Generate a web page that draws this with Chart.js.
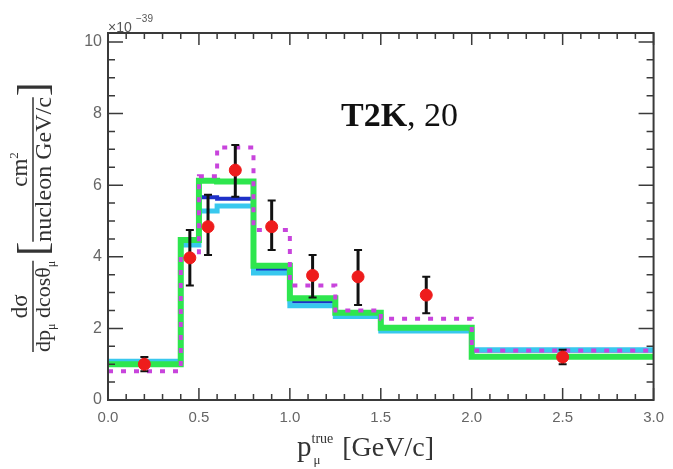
<!DOCTYPE html>
<html>
<head>
<meta charset="utf-8">
<script src="https://cdn.jsdelivr.net/npm/chart.js@4.4.1/dist/chart.umd.min.js"></script>
<style>
  html, body { margin: 0; padding: 0; background: #fff; }
  #wrap { width: 673px; height: 469px; }
</style>
</head>
<body>
<div id="wrap"><canvas id="xsecChart" width="673" height="469"></canvas></div>
<script>
// bin edges of p_mu (GeV/c) and the MC predictions per bin (x1e-39 cm2/nucleon GeV/c)
const binEdges   = [0, 0.4, 0.5, 0.6, 0.8, 1.0, 1.25, 1.5, 2.0, 3.0];
const greenVals  = [1.00, 4.47, 6.12, 6.10, 3.75, 2.84, 2.44, 2.02, 1.21];
const blueVals   = [1.05, 4.38, 5.66, 5.62, 3.64, 2.75, 2.40, 1.97, 1.38];
const cyanVals   = [1.08, 4.33, 5.28, 5.42, 3.55, 2.63, 2.33, 1.93, 1.40];
const magentaVals = [0.80, 4.00, 6.25, 7.05, 4.75, 3.20, 2.50, 2.27, 1.38];

// measured points
const dataX    = [0.2, 0.45, 0.55, 0.7, 0.9, 1.125, 1.375, 1.75, 2.5];
const dataY    = [1.00, 3.97, 4.84, 6.42, 4.84, 3.48, 3.44, 2.93, 1.20];
const errUp    = [0.20, 0.78, 0.89, 0.70, 0.73, 0.57, 0.75, 0.51, 0.20];
const errDown  = [0.20, 0.77, 0.79, 0.74, 0.65, 0.62, 0.79, 0.51, 0.20];

const xTickVals   = [0, 0.5, 1.0, 1.5, 2.0, 2.5, 3.0];
const xTickLabels = ['0.0', '0.5', '1.0', '1.5', '2.0', '2.5', '3.0'];
const yTickVals   = [0, 2, 4, 6, 8, 10];
const yTickLabels = ['0', '2', '4', '6', '8', '10'];

const SERIF = '"Liberation Serif", "DejaVu Serif", serif';

function toSteps(vals) {
  return binEdges.map((x, i) => ({ x, y: vals[Math.min(i, vals.length - 1)] }));
}

function histo(vals, color, width, order, dash) {
  return {
    data: toSteps(vals),
    stepped: true,
    borderColor: color,
    borderWidth: width,
    borderDash: dash || [],
    borderCapStyle: 'butt',
    borderJoinStyle: 'miter',
    pointRadius: 0,
    fill: false,
    order,
  };
}

// draw a list of text runs, returns total advance
function drawRuns(ctx, runs, x, y, measureOnly) {
  let cx = x;
  for (const r of runs) {
    ctx.font = `${r.style || ''} ${r.size}px ${SERIF}`;
    const w = ctx.measureText(r.t).width;
    if (!measureOnly) ctx.fillText(r.t, cx, y + (r.dy || 0));
    cx += w;
  }
  return cx - x;
}

function drawFraction(ctx, num, den, u0, vNum, vDen) {
  const wn = drawRuns(ctx, num, 0, 0, true);
  const wd = drawRuns(ctx, den, 0, 0, true);
  const w = Math.max(wn, wd);
  drawRuns(ctx, num, u0 + (w - wn) / 2, vNum);
  drawRuns(ctx, den, u0 + (w - wd) / 2, vDen);
  ctx.beginPath();
  ctx.moveTo(u0, 0);
  ctx.lineTo(u0 + w, 0);
  ctx.stroke();
  return w;
}

const errorBars = {
  id: 'errorBars',
  beforeDatasetDraw(chart, args) {
    if (args.index !== 0) return;
    const { ctx, scales: { x, y } } = chart;
    ctx.save();
    ctx.strokeStyle = '#111';
    for (let i = 0; i < dataX.length; i++) {
      const px = x.getPixelForValue(dataX[i]);
      const top = y.getPixelForValue(dataY[i] + errUp[i]);
      const bot = y.getPixelForValue(dataY[i] - errDown[i]);
      ctx.lineWidth = 3;
      ctx.beginPath();
      ctx.moveTo(px, top); ctx.lineTo(px, bot);
      ctx.stroke();
      ctx.lineWidth = 2;
      ctx.beginPath();
      ctx.moveTo(px - 4, top); ctx.lineTo(px + 4, top);
      ctx.moveTo(px - 4, bot); ctx.lineTo(px + 4, bot);
      ctx.stroke();
    }
    ctx.restore();
  },
};

const frameAndText = {
  id: 'frameAndText',
  afterDatasetsDraw(chart) {
    const { ctx, chartArea: a, scales: { x, y } } = chart;
    ctx.save();
    ctx.strokeStyle = '#3a3a3a';
    ctx.lineWidth = 2;
    ctx.strokeRect(a.left, a.top, a.right - a.left, a.bottom - a.top);

    // ROOT style ticks, pointing inside, on all four sides
    ctx.lineWidth = 1.5;
    ctx.beginPath();
    for (let k = 0; k <= 30; k++) {
      const len = k % 5 === 0 ? 12 : 6;
      const px = x.getPixelForValue(k / 10);
      ctx.moveTo(px, a.bottom); ctx.lineTo(px, a.bottom - len);
      ctx.moveTo(px, a.top); ctx.lineTo(px, a.top + len);
    }
    for (let k = 0; k <= 20; k++) {
      const len = k % 4 === 0 ? 15 : 7;
      const py = y.getPixelForValue(k / 2);
      ctx.moveTo(a.left, py); ctx.lineTo(a.left + len, py);
      ctx.moveTo(a.right, py); ctx.lineTo(a.right - len, py);
    }
    ctx.stroke();
    ctx.restore();
  },
  afterDraw(chart) {
    const { ctx } = chart;
    ctx.save();
    ctx.fillStyle = '#111';
    ctx.textBaseline = 'alphabetic';

    // title
    drawRuns(ctx, [
      { t: 'T2K', size: 34, style: 'bold' },
      { t: ', 20', size: 34 },
    ], 341, 126);

    // x axis title
    ctx.fillStyle = '#333';
    let cx = 297;
    cx += drawRuns(ctx, [{ t: 'p', size: 29 }], cx, 456);
    const supW = drawRuns(ctx, [{ t: 'true', size: 14 }], cx, 443);
    drawRuns(ctx, [{ t: 'μ', size: 13 }], cx + 2, 464);
    cx += supW + 2;
    drawRuns(ctx, [{ t: ' [GeV/c]', size: 28 }], cx, 456);

    // exponent
    ctx.fillStyle = '#555';
    ctx.font = '14px "Liberation Sans", sans-serif';
    ctx.fillText('×10', 108, 32);
    ctx.font = '10px "Liberation Sans", sans-serif';
    ctx.fillText('−39', 136, 22);

    // y axis title, rotated
    ctx.fillStyle = '#333';
    ctx.strokeStyle = '#333';
    ctx.lineWidth = 1.5;
    ctx.translate(33, 0);
    ctx.rotate(-Math.PI / 2);
    let u = -352;
    u += drawFraction(ctx,
      [{ t: 'dσ', size: 23 }],
      [{ t: 'dp', size: 22 }, { t: 'μ', size: 12, dy: 5 },
       { t: ' dcosθ', size: 22 }, { t: 'μ', size: 12, dy: 5 }],
      u, -6, 17);
    u += 5;
    u += drawRuns(ctx, [{ t: '[', size: 42 }], u, 13);
    u += drawFraction(ctx,
      [{ t: 'cm', size: 23 }, { t: '2', size: 13, dy: -9 }],
      [{ t: 'nucleon GeV/c', size: 24 }],
      u, -6, 18);
    drawRuns(ctx, [{ t: ']', size: 42 }], u + 1, 13);
    ctx.restore();
  },
};

new Chart(document.getElementById('xsecChart'), {
  type: 'line',
  data: {
    datasets: [
      {
        data: dataX.map((x, i) => ({ x, y: dataY[i] })),
        showLine: false,
        pointRadius: 6,
        pointBackgroundColor: '#ee1c1c',
        pointBorderColor: '#ee1c1c',
        order: 0,
      },
      histo(magentaVals, '#c844dc', 4, 1, [5, 8]),
      histo(greenVals, '#2ee64e', 6, 2),
      histo(cyanVals, '#38c8ee', 5, 3),
      histo(blueVals, '#1e30c8', 4, 4),
    ],
  },
  options: {
    responsive: false,
    animation: false,
    layout: { padding: { top: 33, right: 10, left: 0, bottom: 0 } },
    plugins: { legend: { display: false }, tooltip: { enabled: false } },
    scales: {
      x: {
        type: 'linear',
        min: 0,
        max: 3,
        afterBuildTicks: s => { s.ticks = xTickVals.map(v => ({ value: v })); },
        afterFit: s => { s.height = 69; },
        grid: { display: false, drawTicks: false },
        border: { display: false },
        ticks: {
          padding: 9,
          maxRotation: 0,
          color: '#666',
          font: { family: '"Liberation Sans", sans-serif', size: 15 },
          callback: (v, i) => xTickLabels[i],
        },
      },
      y: {
        min: 0,
        max: 10.25,
        afterBuildTicks: s => { s.ticks = yTickVals.map(v => ({ value: v })); },
        afterFit: s => { s.width = 108; },
        grid: { display: false, drawTicks: false },
        border: { display: false },
        ticks: {
          padding: 6,
          color: '#666',
          font: { family: '"Liberation Sans", sans-serif', size: 16 },
          callback: (v, i) => yTickLabels[i],
        },
      },
    },
  },
  plugins: [errorBars, frameAndText],
});
</script>
</body>
</html>
